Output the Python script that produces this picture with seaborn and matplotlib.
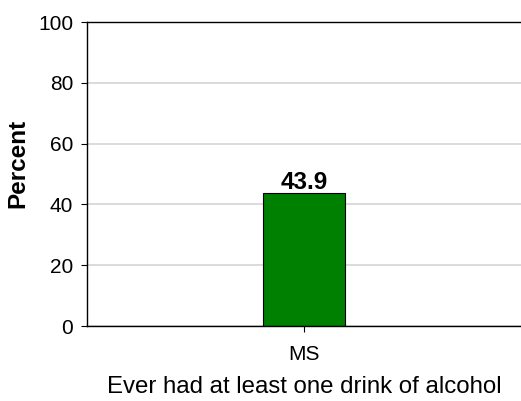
import matplotlib
matplotlib.use("Agg")
import matplotlib.pyplot as plt
import seaborn as sns
import pandas as pd

# data
categories = ["MS"]
percent = [43.9]
yticks = [0, 20, 40, 60, 80, 100]

df = pd.DataFrame({"group": categories, "percent": percent})

sns.set_theme(style="white")
plt.rcParams["font.family"] = ["Liberation Sans", "DejaVu Sans"]
plt.rcParams["text.color"] = "black"
plt.rcParams["axes.labelcolor"] = "black"
plt.rcParams["xtick.color"] = "black"
plt.rcParams["ytick.color"] = "black"

fig = plt.figure(figsize=(5.21, 4.01), dpi=100)
ax = fig.add_axes([0.167, 0.187, 0.833, 0.758])

sns.barplot(data=df, x="group", y="percent", color="#008000", saturation=1,
            width=0.19, edgecolor="black", linewidth=0.8, ax=ax)

ax.set_ylim(0, 100)
ax.set_xlim(-0.5, 0.5)
ax.set_yticks(yticks)
ax.yaxis.grid(True, color="#d4d4d4", linewidth=1.2)
ax.set_axisbelow(True)

ax.spines["right"].set_visible(False)
for side in ["left", "bottom", "top"]:
    ax.spines[side].set_color("black")
    ax.spines[side].set_linewidth(1.0)

ax.tick_params(axis="y", length=4, width=0.8, labelsize=15, pad=6, left=True)
ax.tick_params(axis="x", length=4, width=0.8, labelsize=15, pad=10, bottom=True)

ax.bar_label(ax.containers[0], fmt="%.1f", fontsize=17.5, fontweight="bold", padding=-1)

ax.set_xlabel("Ever had at least one drink of alcohol", fontsize=17.3, labelpad=8)
ax.set_ylabel("Percent", fontsize=17.5, fontweight="bold")
ax.yaxis.set_label_coords(-0.133, 0.536)

fig.savefig("out.png", dpi=100)
